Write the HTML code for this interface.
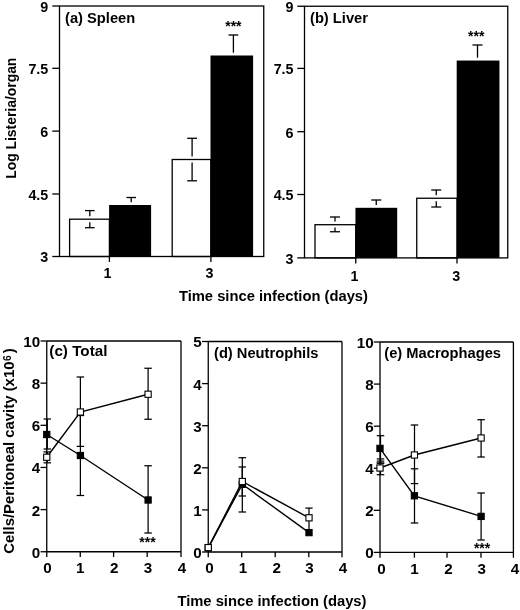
<!DOCTYPE html>
<html><head><meta charset="utf-8"><title>Figure</title>
<style>
html,body{margin:0;padding:0;background:#fff;}
svg{display:block;will-change:transform}
text{font-family:"Liberation Sans", Arial, Helvetica, sans-serif;font-weight:bold;fill:#000}
</style></head>
<body>
<svg width="520" height="610" viewBox="0 0 520 610">
<rect x="0" y="0" width="520" height="610" fill="#fff"/>
<rect x="69.6" y="219.2" width="39.8" height="37.3" fill="#fff" stroke="#000" stroke-width="1.3"/>
<rect x="109.10" y="205.00" width="42.00" height="51.50" fill="#000"/>
<rect x="172.2" y="159.5" width="38.6" height="97.0" fill="#fff" stroke="#000" stroke-width="1.3"/>
<rect x="210.50" y="55.50" width="42.60" height="201.00" fill="#000"/>
<line x1="85.0" y1="210.6" x2="94.6" y2="210.6" stroke="#000" stroke-width="1.3"/>
<line x1="89.8" y1="210.6" x2="89.8" y2="216.2" stroke="#000" stroke-width="1.3"/>
<line x1="89.8" y1="222.2" x2="89.8" y2="227.7" stroke="#000" stroke-width="1.3"/>
<line x1="85.0" y1="227.7" x2="94.6" y2="227.7" stroke="#000" stroke-width="1.3"/>
<line x1="126.39999999999999" y1="197.5" x2="136.0" y2="197.5" stroke="#000" stroke-width="1.3"/>
<line x1="131.2" y1="197.5" x2="131.2" y2="202.2" stroke="#000" stroke-width="1.3"/>
<line x1="187.2" y1="138.3" x2="197.0" y2="138.3" stroke="#000" stroke-width="1.3"/>
<line x1="192.1" y1="138.3" x2="192.1" y2="156.5" stroke="#000" stroke-width="1.3"/>
<line x1="192.1" y1="162.5" x2="192.1" y2="180.8" stroke="#000" stroke-width="1.3"/>
<line x1="187.2" y1="180.8" x2="197.0" y2="180.8" stroke="#000" stroke-width="1.3"/>
<line x1="228.5" y1="35" x2="238.3" y2="35" stroke="#000" stroke-width="1.3"/>
<line x1="233.4" y1="35" x2="233.4" y2="52.7" stroke="#000" stroke-width="1.3"/>
<rect x="59.5" y="6" width="204.25" height="250.5" fill="none" stroke="#000" stroke-width="1.3"/>
<line x1="52.3" y1="6" x2="59.5" y2="6" stroke="#000" stroke-width="1.3"/>
<text x="48.3" y="11.9" font-size="14.3" text-anchor="end" >9</text>
<line x1="52.3" y1="68.3" x2="59.5" y2="68.3" stroke="#000" stroke-width="1.3"/>
<text x="48.3" y="74.2" font-size="14.3" text-anchor="end" >7.5</text>
<line x1="52.3" y1="131.1" x2="59.5" y2="131.1" stroke="#000" stroke-width="1.3"/>
<text x="48.3" y="137.0" font-size="14.3" text-anchor="end" >6</text>
<line x1="52.3" y1="194" x2="59.5" y2="194" stroke="#000" stroke-width="1.3"/>
<text x="48.3" y="199.9" font-size="14.3" text-anchor="end" >4.5</text>
<line x1="52.3" y1="256.5" x2="59.5" y2="256.5" stroke="#000" stroke-width="1.3"/>
<text x="48.3" y="262.4" font-size="14.3" text-anchor="end" >3</text>
<line x1="109.4" y1="256.5" x2="109.4" y2="262.0" stroke="#000" stroke-width="1.3"/>
<line x1="210.9" y1="256.5" x2="210.9" y2="262.0" stroke="#000" stroke-width="1.3"/>
<text x="107.5" y="277.5" font-size="14.3" text-anchor="middle" >1</text>
<text x="209.4" y="277.5" font-size="14.3" text-anchor="middle" >3</text>
<text x="65" y="23" font-size="14.7" text-anchor="start" >(a) Spleen</text>
<text x="233.4" y="31" font-size="14" text-anchor="middle" >***</text>
<rect x="315" y="224.7" width="40.7" height="33.2" fill="#fff" stroke="#000" stroke-width="1.3"/>
<rect x="355.45" y="207.80" width="41.75" height="50.10" fill="#000"/>
<rect x="416.75" y="198.25" width="40.25" height="59.65" fill="#fff" stroke="#000" stroke-width="1.3"/>
<rect x="456.70" y="60.55" width="42.75" height="197.35" fill="#000"/>
<line x1="330.0" y1="217" x2="340.0" y2="217" stroke="#000" stroke-width="1.3"/>
<line x1="335" y1="217" x2="335" y2="221.5" stroke="#000" stroke-width="1.3"/>
<line x1="335" y1="227.5" x2="335" y2="231.75" stroke="#000" stroke-width="1.3"/>
<line x1="330.0" y1="231.75" x2="340.0" y2="231.75" stroke="#000" stroke-width="1.3"/>
<line x1="371.25" y1="200" x2="381.25" y2="200" stroke="#000" stroke-width="1.3"/>
<line x1="376.25" y1="200" x2="376.25" y2="205" stroke="#000" stroke-width="1.3"/>
<line x1="431.25" y1="190" x2="441.25" y2="190" stroke="#000" stroke-width="1.3"/>
<line x1="436.25" y1="190" x2="436.25" y2="195.25" stroke="#000" stroke-width="1.3"/>
<line x1="436.25" y1="201.25" x2="436.25" y2="207" stroke="#000" stroke-width="1.3"/>
<line x1="431.25" y1="207" x2="441.25" y2="207" stroke="#000" stroke-width="1.3"/>
<line x1="472.5" y1="45" x2="482.5" y2="45" stroke="#000" stroke-width="1.3"/>
<line x1="477.5" y1="45" x2="477.5" y2="57.75" stroke="#000" stroke-width="1.3"/>
<rect x="304.5" y="6.25" width="203.25" height="251.64999999999998" fill="none" stroke="#000" stroke-width="1.3"/>
<line x1="297.3" y1="6.25" x2="304.5" y2="6.25" stroke="#000" stroke-width="1.3"/>
<text x="293.5" y="12.15" font-size="14.3" text-anchor="end" >9</text>
<line x1="297.3" y1="68.4" x2="304.5" y2="68.4" stroke="#000" stroke-width="1.3"/>
<text x="293.5" y="74.30000000000001" font-size="14.3" text-anchor="end" >7.5</text>
<line x1="297.3" y1="131.7" x2="304.5" y2="131.7" stroke="#000" stroke-width="1.3"/>
<text x="293.5" y="137.6" font-size="14.3" text-anchor="end" >6</text>
<line x1="297.3" y1="194.5" x2="304.5" y2="194.5" stroke="#000" stroke-width="1.3"/>
<text x="293.5" y="200.4" font-size="14.3" text-anchor="end" >4.5</text>
<line x1="297.3" y1="257.9" x2="304.5" y2="257.9" stroke="#000" stroke-width="1.3"/>
<text x="293.5" y="263.79999999999995" font-size="14.3" text-anchor="end" >3</text>
<line x1="355.75" y1="257.9" x2="355.75" y2="263.4" stroke="#000" stroke-width="1.3"/>
<line x1="457" y1="257.9" x2="457" y2="263.4" stroke="#000" stroke-width="1.3"/>
<text x="354.5" y="280.5" font-size="14.3" text-anchor="middle" >1</text>
<text x="456.25" y="280.5" font-size="14.3" text-anchor="middle" >3</text>
<text x="310" y="22.7" font-size="14.7" text-anchor="start" >(b) Liver</text>
<text x="476.2" y="41" font-size="14" text-anchor="middle" >***</text>
<text transform="translate(16.2,178.8) rotate(-90) scale(0.965,1)" font-size="14.4">Log Listeria/organ</text>
<text x="178.9" y="300.9" font-size="14.75" text-anchor="start" >Time since infection (days)</text>
<line x1="46.75" y1="341" x2="46.75" y2="557.05" stroke="#000" stroke-width="1.3"/>
<line x1="181" y1="341" x2="181" y2="557.05" stroke="#000" stroke-width="1.3"/>
<line x1="46.75" y1="341" x2="181" y2="341" stroke="#000" stroke-width="1.3"/>
<line x1="46.75" y1="551.75" x2="181" y2="551.75" stroke="#000" stroke-width="1.3"/>
<line x1="40.55" y1="341.0" x2="46.75" y2="341.0" stroke="#000" stroke-width="1.3"/>
<text x="40.2" y="346.9" font-size="15.2" text-anchor="end" >10</text>
<line x1="40.55" y1="383.15" x2="46.75" y2="383.15" stroke="#000" stroke-width="1.3"/>
<text x="40.2" y="389.04999999999995" font-size="15.2" text-anchor="end" >8</text>
<line x1="40.55" y1="425.3" x2="46.75" y2="425.3" stroke="#000" stroke-width="1.3"/>
<text x="40.2" y="431.2" font-size="15.2" text-anchor="end" >6</text>
<line x1="40.55" y1="467.45" x2="46.75" y2="467.45" stroke="#000" stroke-width="1.3"/>
<text x="40.2" y="473.34999999999997" font-size="15.2" text-anchor="end" >4</text>
<line x1="40.55" y1="509.6" x2="46.75" y2="509.6" stroke="#000" stroke-width="1.3"/>
<text x="40.2" y="515.5" font-size="15.2" text-anchor="end" >2</text>
<line x1="40.55" y1="551.75" x2="46.75" y2="551.75" stroke="#000" stroke-width="1.3"/>
<text x="40.2" y="557.65" font-size="15.2" text-anchor="end" >0</text>
<line x1="80.25" y1="551.75" x2="80.25" y2="557.05" stroke="#000" stroke-width="1.3"/>
<line x1="113.6" y1="551.75" x2="113.6" y2="557.05" stroke="#000" stroke-width="1.3"/>
<line x1="147.2" y1="551.75" x2="147.2" y2="557.05" stroke="#000" stroke-width="1.3"/>
<text x="47.5" y="572.6" font-size="15.2" text-anchor="middle" >0</text>
<text x="80.2" y="572.6" font-size="15.2" text-anchor="middle" >1</text>
<text x="114.2" y="572.6" font-size="15.2" text-anchor="middle" >2</text>
<text x="148" y="572.6" font-size="15.2" text-anchor="middle" >3</text>
<text x="182" y="572.6" font-size="15.2" text-anchor="middle" >4</text>
<text x="49.3" y="356.3" font-size="15.25" text-anchor="start" >(c) Total</text>
<line x1="47.3" y1="451.9" x2="47.3" y2="462.8" stroke="#000" stroke-width="1.25"/>
<line x1="43.55" y1="451.9" x2="51.05" y2="451.9" stroke="#000" stroke-width="1.25"/>
<line x1="43.55" y1="462.8" x2="51.05" y2="462.8" stroke="#000" stroke-width="1.25"/>
<line x1="80.4" y1="377" x2="80.4" y2="446.4" stroke="#000" stroke-width="1.25"/>
<line x1="76.65" y1="377" x2="84.15" y2="377" stroke="#000" stroke-width="1.25"/>
<line x1="76.65" y1="446.4" x2="84.15" y2="446.4" stroke="#000" stroke-width="1.25"/>
<line x1="148.1" y1="368.25" x2="148.1" y2="419.25" stroke="#000" stroke-width="1.25"/>
<line x1="144.35" y1="368.25" x2="151.85" y2="368.25" stroke="#000" stroke-width="1.25"/>
<line x1="144.35" y1="419.25" x2="151.85" y2="419.25" stroke="#000" stroke-width="1.25"/>
<line x1="47.3" y1="419" x2="47.3" y2="449" stroke="#000" stroke-width="1.25"/>
<line x1="43.55" y1="419" x2="51.05" y2="419" stroke="#000" stroke-width="1.25"/>
<line x1="43.55" y1="449" x2="51.05" y2="449" stroke="#000" stroke-width="1.25"/>
<line x1="80.4" y1="415.5" x2="80.4" y2="495.5" stroke="#000" stroke-width="1.25"/>
<line x1="76.65" y1="415.5" x2="84.15" y2="415.5" stroke="#000" stroke-width="1.25"/>
<line x1="76.65" y1="495.5" x2="84.15" y2="495.5" stroke="#000" stroke-width="1.25"/>
<line x1="148.1" y1="465.75" x2="148.1" y2="533" stroke="#000" stroke-width="1.25"/>
<line x1="144.35" y1="465.75" x2="151.85" y2="465.75" stroke="#000" stroke-width="1.25"/>
<line x1="144.35" y1="533" x2="151.85" y2="533" stroke="#000" stroke-width="1.25"/>
<polyline fill="none" stroke="#000" stroke-width="1.4" points="46.75,434.5 80.4,455.5 148.1,500"/>
<polyline fill="none" stroke="#000" stroke-width="1.4" points="46.75,457.25 80.4,412 148.1,394.25"/>
<rect x="43.65" y="431.4" width="6.199999999999999" height="6.199999999999999" fill="#000" stroke="#000" stroke-width="1.1"/>
<rect x="77.30000000000001" y="452.4" width="6.199999999999999" height="6.199999999999999" fill="#000" stroke="#000" stroke-width="1.1"/>
<rect x="145.0" y="496.9" width="6.199999999999999" height="6.199999999999999" fill="#000" stroke="#000" stroke-width="1.1"/>
<rect x="43.65" y="454.15" width="6.199999999999999" height="6.199999999999999" fill="#fff" stroke="#000" stroke-width="1.1"/>
<rect x="77.30000000000001" y="408.9" width="6.199999999999999" height="6.199999999999999" fill="#fff" stroke="#000" stroke-width="1.1"/>
<rect x="145.0" y="391.15" width="6.199999999999999" height="6.199999999999999" fill="#fff" stroke="#000" stroke-width="1.1"/>
<text x="147.5" y="546.8" font-size="14" text-anchor="middle" >***</text>
<line x1="208.25" y1="341.5" x2="208.25" y2="557.3" stroke="#000" stroke-width="1.3"/>
<line x1="342" y1="341.5" x2="342" y2="557.3" stroke="#000" stroke-width="1.3"/>
<line x1="208.25" y1="341.5" x2="342" y2="341.5" stroke="#000" stroke-width="1.3"/>
<line x1="208.25" y1="552" x2="342" y2="552" stroke="#000" stroke-width="1.3"/>
<line x1="202.05" y1="341.5" x2="208.25" y2="341.5" stroke="#000" stroke-width="1.3"/>
<text x="201.6" y="347.4" font-size="15.2" text-anchor="end" >5</text>
<line x1="202.05" y1="383.6" x2="208.25" y2="383.6" stroke="#000" stroke-width="1.3"/>
<text x="201.6" y="389.5" font-size="15.2" text-anchor="end" >4</text>
<line x1="202.05" y1="425.7" x2="208.25" y2="425.7" stroke="#000" stroke-width="1.3"/>
<text x="201.6" y="431.59999999999997" font-size="15.2" text-anchor="end" >3</text>
<line x1="202.05" y1="467.8" x2="208.25" y2="467.8" stroke="#000" stroke-width="1.3"/>
<text x="201.6" y="473.7" font-size="15.2" text-anchor="end" >2</text>
<line x1="202.05" y1="509.9" x2="208.25" y2="509.9" stroke="#000" stroke-width="1.3"/>
<text x="201.6" y="515.8" font-size="15.2" text-anchor="end" >1</text>
<line x1="202.05" y1="552.0" x2="208.25" y2="552.0" stroke="#000" stroke-width="1.3"/>
<text x="201.6" y="557.9" font-size="15.2" text-anchor="end" >0</text>
<line x1="241.7" y1="552" x2="241.7" y2="557.3" stroke="#000" stroke-width="1.3"/>
<line x1="275.2" y1="552" x2="275.2" y2="557.3" stroke="#000" stroke-width="1.3"/>
<line x1="308.8" y1="552" x2="308.8" y2="557.3" stroke="#000" stroke-width="1.3"/>
<text x="209.4" y="573" font-size="15.2" text-anchor="middle" >0</text>
<text x="243" y="573" font-size="15.2" text-anchor="middle" >1</text>
<text x="276.8" y="573" font-size="15.2" text-anchor="middle" >2</text>
<text x="309.4" y="573" font-size="15.2" text-anchor="middle" >3</text>
<text x="343" y="573" font-size="15.2" text-anchor="middle" >4</text>
<text x="214" y="357.8" font-size="14.7" text-anchor="start" >(d) Neutrophils</text>
<line x1="242.3" y1="467" x2="242.3" y2="496" stroke="#000" stroke-width="1.25"/>
<line x1="238.55" y1="467" x2="246.05" y2="467" stroke="#000" stroke-width="1.25"/>
<line x1="238.55" y1="496" x2="246.05" y2="496" stroke="#000" stroke-width="1.25"/>
<line x1="309" y1="508.1" x2="309" y2="529" stroke="#000" stroke-width="1.25"/>
<line x1="305.35" y1="508.1" x2="312.65" y2="508.1" stroke="#000" stroke-width="1.25"/>
<line x1="242.3" y1="457.7" x2="242.3" y2="512" stroke="#000" stroke-width="1.25"/>
<line x1="238.55" y1="457.7" x2="246.05" y2="457.7" stroke="#000" stroke-width="1.25"/>
<line x1="238.55" y1="512" x2="246.05" y2="512" stroke="#000" stroke-width="1.25"/>
<polyline fill="none" stroke="#000" stroke-width="1.4" points="208.25,547.8 242.3,484.3 309,532.6"/>
<polyline fill="none" stroke="#000" stroke-width="1.4" points="208.25,547.6 242.3,481.5 309,517.8"/>
<rect x="205.15" y="544.6999999999999" width="6.199999999999999" height="6.199999999999999" fill="#000" stroke="#000" stroke-width="1.1"/>
<rect x="239.20000000000002" y="481.2" width="6.199999999999999" height="6.199999999999999" fill="#000" stroke="#000" stroke-width="1.1"/>
<rect x="305.9" y="529.5" width="6.199999999999999" height="6.199999999999999" fill="#000" stroke="#000" stroke-width="1.1"/>
<rect x="205.15" y="544.5" width="6.199999999999999" height="6.199999999999999" fill="#fff" stroke="#000" stroke-width="1.1"/>
<rect x="239.20000000000002" y="478.4" width="6.199999999999999" height="6.199999999999999" fill="#fff" stroke="#000" stroke-width="1.1"/>
<rect x="305.9" y="514.6999999999999" width="6.199999999999999" height="6.199999999999999" fill="#fff" stroke="#000" stroke-width="1.1"/>
<line x1="380" y1="342" x2="380" y2="557.6999999999999" stroke="#000" stroke-width="1.3"/>
<line x1="513.4" y1="342" x2="513.4" y2="557.6999999999999" stroke="#000" stroke-width="1.3"/>
<line x1="380.0" y1="342" x2="513.4" y2="342" stroke="#000" stroke-width="1.3"/>
<line x1="380" y1="552.4" x2="513.4" y2="552.4" stroke="#000" stroke-width="1.3"/>
<line x1="373.8" y1="342.0" x2="380" y2="342.0" stroke="#000" stroke-width="1.3"/>
<text x="373.6" y="347.9" font-size="15.2" text-anchor="end" >10</text>
<line x1="373.8" y1="384.08" x2="380" y2="384.08" stroke="#000" stroke-width="1.3"/>
<text x="373.6" y="389.97999999999996" font-size="15.2" text-anchor="end" >8</text>
<line x1="373.8" y1="426.15999999999997" x2="380" y2="426.15999999999997" stroke="#000" stroke-width="1.3"/>
<text x="373.6" y="432.05999999999995" font-size="15.2" text-anchor="end" >6</text>
<line x1="373.8" y1="468.24" x2="380" y2="468.24" stroke="#000" stroke-width="1.3"/>
<text x="373.6" y="474.14" font-size="15.2" text-anchor="end" >4</text>
<line x1="373.8" y1="510.32" x2="380" y2="510.32" stroke="#000" stroke-width="1.3"/>
<text x="373.6" y="516.22" font-size="15.2" text-anchor="end" >2</text>
<line x1="373.8" y1="552.4" x2="380" y2="552.4" stroke="#000" stroke-width="1.3"/>
<text x="373.6" y="558.3" font-size="15.2" text-anchor="end" >0</text>
<line x1="414.4" y1="552.4" x2="414.4" y2="557.6999999999999" stroke="#000" stroke-width="1.3"/>
<line x1="447" y1="552.4" x2="447" y2="557.6999999999999" stroke="#000" stroke-width="1.3"/>
<line x1="481" y1="552.4" x2="481" y2="557.6999999999999" stroke="#000" stroke-width="1.3"/>
<text x="381.4" y="573.5" font-size="15.2" text-anchor="middle" >0</text>
<text x="414.4" y="573.5" font-size="15.2" text-anchor="middle" >1</text>
<text x="448.4" y="573.5" font-size="15.2" text-anchor="middle" >2</text>
<text x="481.7" y="573.5" font-size="15.2" text-anchor="middle" >3</text>
<text x="515" y="573.5" font-size="15.2" text-anchor="middle" >4</text>
<text x="384.3" y="357.6" font-size="14.7" text-anchor="start" >(e) Macrophages</text>
<line x1="380.5" y1="458.9" x2="380.5" y2="474.7" stroke="#000" stroke-width="1.25"/>
<line x1="376.75" y1="458.9" x2="384.25" y2="458.9" stroke="#000" stroke-width="1.25"/>
<line x1="376.75" y1="474.7" x2="384.25" y2="474.7" stroke="#000" stroke-width="1.25"/>
<line x1="380.5" y1="463.1" x2="380.5" y2="463.1" stroke="#000" stroke-width="1.25"/>
<line x1="376.75" y1="463.1" x2="384.25" y2="463.1" stroke="#000" stroke-width="1.25"/>
<line x1="376.75" y1="463.1" x2="384.25" y2="463.1" stroke="#000" stroke-width="1.25"/>
<line x1="414.5" y1="425" x2="414.5" y2="483.6" stroke="#000" stroke-width="1.25"/>
<line x1="410.75" y1="425" x2="418.25" y2="425" stroke="#000" stroke-width="1.25"/>
<line x1="410.75" y1="483.6" x2="418.25" y2="483.6" stroke="#000" stroke-width="1.25"/>
<line x1="481.1" y1="419.7" x2="481.1" y2="457" stroke="#000" stroke-width="1.25"/>
<line x1="477.35" y1="419.7" x2="484.85" y2="419.7" stroke="#000" stroke-width="1.25"/>
<line x1="477.35" y1="457" x2="484.85" y2="457" stroke="#000" stroke-width="1.25"/>
<line x1="380.5" y1="435.7" x2="380.5" y2="461.1" stroke="#000" stroke-width="1.25"/>
<line x1="376.75" y1="435.7" x2="384.25" y2="435.7" stroke="#000" stroke-width="1.25"/>
<line x1="376.75" y1="461.1" x2="384.25" y2="461.1" stroke="#000" stroke-width="1.25"/>
<line x1="414.5" y1="468.8" x2="414.5" y2="523" stroke="#000" stroke-width="1.25"/>
<line x1="410.75" y1="468.8" x2="418.25" y2="468.8" stroke="#000" stroke-width="1.25"/>
<line x1="410.75" y1="523" x2="418.25" y2="523" stroke="#000" stroke-width="1.25"/>
<line x1="481.1" y1="493" x2="481.1" y2="540" stroke="#000" stroke-width="1.25"/>
<line x1="477.35" y1="493" x2="484.85" y2="493" stroke="#000" stroke-width="1.25"/>
<line x1="477.35" y1="540" x2="484.85" y2="540" stroke="#000" stroke-width="1.25"/>
<polyline fill="none" stroke="#000" stroke-width="1.4" points="380,448.4 414.4,495.8 481.1,516.4"/>
<polyline fill="none" stroke="#000" stroke-width="1.4" points="380,468 414.4,455 481.1,438"/>
<rect x="376.9" y="445.29999999999995" width="6.199999999999999" height="6.199999999999999" fill="#000" stroke="#000" stroke-width="1.1"/>
<rect x="411.29999999999995" y="492.7" width="6.199999999999999" height="6.199999999999999" fill="#000" stroke="#000" stroke-width="1.1"/>
<rect x="478.0" y="513.3" width="6.199999999999999" height="6.199999999999999" fill="#000" stroke="#000" stroke-width="1.1"/>
<rect x="376.9" y="464.9" width="6.199999999999999" height="6.199999999999999" fill="#fff" stroke="#000" stroke-width="1.1"/>
<rect x="411.29999999999995" y="451.9" width="6.199999999999999" height="6.199999999999999" fill="#fff" stroke="#000" stroke-width="1.1"/>
<rect x="478.0" y="434.9" width="6.199999999999999" height="6.199999999999999" fill="#fff" stroke="#000" stroke-width="1.1"/>
<text x="482.1" y="553.2" font-size="14" text-anchor="middle" >***</text>
<text transform="translate(14.4,553.7) rotate(-90) scale(0.975,1)" font-size="15.3">Cells/Peritoneal cavity (x10<tspan dy="-3.6" dx="0.6" font-size="10.5">6</tspan><tspan dy="3.6" dx="2">)</tspan></text>
<text x="177.4" y="605.5" font-size="14.75" text-anchor="start" >Time since infection (days)</text>
</svg>
</body></html>
